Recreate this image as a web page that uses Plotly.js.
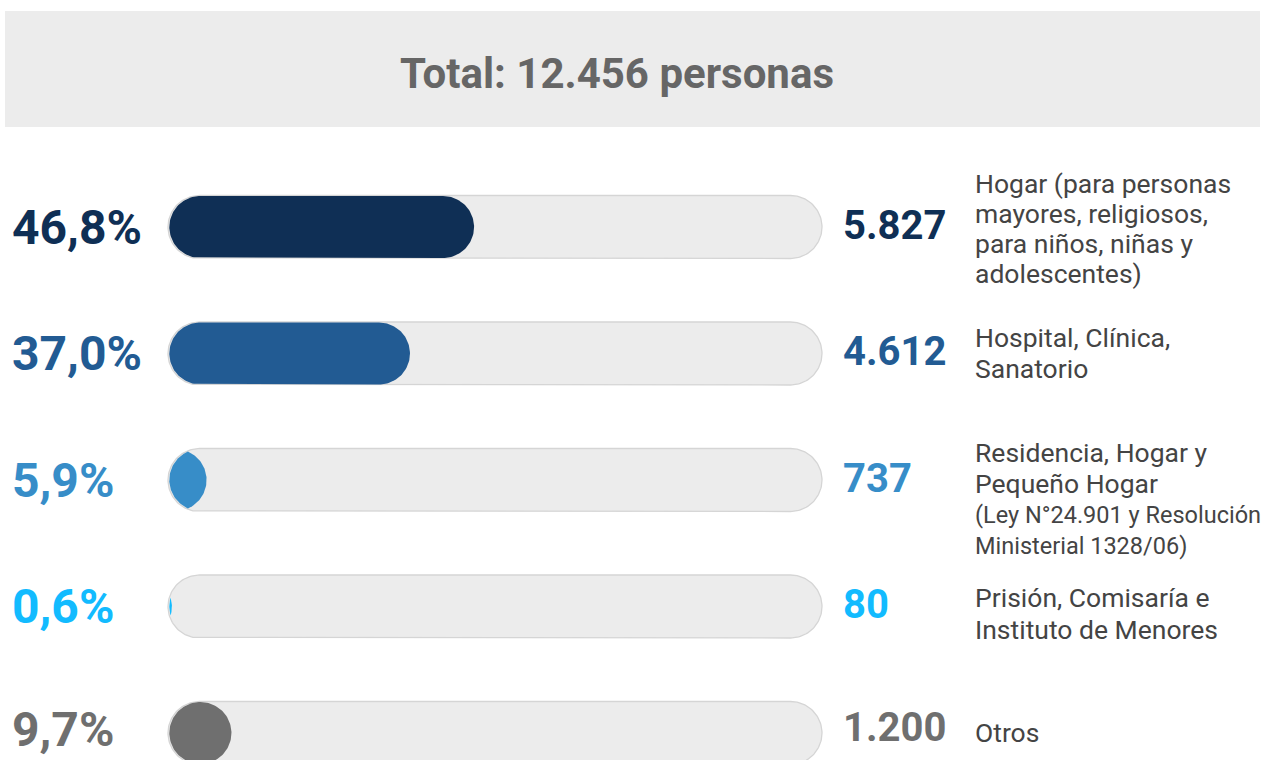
<!DOCTYPE html>
<html>
<head>
<meta charset="utf-8">
<script src="https://cdn.plot.ly/plotly-3.0.1.min.js"></script>
<style>
  html, body { margin: 0; padding: 0; background: #ffffff; }
  #chart { width: 1268px; height: 760px; }
</style>
</head>
<body>
<div id="chart"></div>
<script>
// ---------- DATA ----------
const categories = [
  ['Hogar (para personas', 'mayores, religiosos,', 'para niños, niñas y', 'adolescentes)'],
  ['Hospital, Clínica,', 'Sanatorio'],
  ['Residencia, Hogar y', 'Pequeño Hogar', '(Ley N°24.901 y Resolución', 'Ministerial 1328/06)'],
  ['Prisión, Comisaría e', 'Instituto de Menores'],
  ['Otros']
];
const percentages = [46.8, 37.0, 5.9, 0.6, 9.7];
const counts = [5827, 4612, 737, 80, 1200];
const titlePrefix = 'Total: ';
const titleSuffix = ' personas';

// ---------- STYLE ----------
const barColors = ['#0f2f55', '#225b93', '#378dc8', '#12bbff', '#6f6f6f'];
const W = 1268, H = 760;
const X0 = 168, TRACK_W = 654;          // track pixel start / width (0..100 %)
const PX_X = TRACK_W / 100;             // px per percent
const ROW0 = 227, ROW_STEP = 126.5;     // px of first row centre, px between rows
const labelShift = [1, -1, 19, 7, -1];  // px, label block centre vs bar centre
const labelLineGap = [30, 31, 31, 32, 30];
const textLift = [0, 0, 0, 0, 4];       // px, keeps the last row's texts inside the page
const smallLines = {2: [2, 3]};

const xRange = [-X0 / PX_X, (W - X0) / PX_X];
const yRange = [(H - ROW0) / ROW_STEP, -ROW0 / ROW_STEP];

function fmtPct(v) { return v.toFixed(1).replace('.', ',') + '%'; }
function fmtInt(v) { return String(v).replace(/\B(?=(\d{3})+(?!\d))/g, '.'); }

// pill polygon (data coords) from x0 to x1 (percent), centred on row yc
function pill(x0, x1, yc, rPx) {
  const rx = rPx / PX_X, ry = rPx / ROW_STEP;
  const cL = x0 + rx, cR = x1 - rx;
  let tMax = Math.PI / 2;
  if (cR < cL) {
    const c0 = (cL - cR) / (2 * rx);
    if (c0 >= 1) return null;
    tMax = Math.acos(c0);
  }
  const N = 60, xs = [], ys = [];
  for (let k = 0; k <= N; k++) {
    const t = -tMax + 2 * tMax * k / N;
    xs.push(cR + rx * Math.cos(t)); ys.push(yc + ry * Math.sin(t));
  }
  for (let k = 0; k <= N; k++) {
    const t = tMax - 2 * tMax * k / N;
    xs.push(cL - rx * Math.cos(t)); ys.push(yc + ry * Math.sin(t));
  }
  xs.push(xs[0]); ys.push(ys[0]);
  return {xs, ys};
}

const traces = [];
const annotations = [];
const total = counts.reduce((a, b) => a + b, 0);

percentages.forEach((p, i) => {
  const tr = pill(0, 100, i, 31.5);
  traces.push({
    type: 'scatter', mode: 'lines', x: tr.xs, y: tr.ys,
    fill: 'toself', fillcolor: '#ececec',
    line: {color: '#d5d5d5', width: 1.3},
    hoverinfo: 'skip', showlegend: false
  });
  const fl = pill(0.2, p, i, 31);
  if (fl) {
    traces.push({
      type: 'scatter', mode: 'lines', x: fl.xs, y: fl.ys,
      fill: 'toself', fillcolor: barColors[i],
      line: {color: barColors[i], width: 0},
      hoverinfo: 'skip', showlegend: false
    });
  }
  // percentage label (left)
  annotations.push({
    xref: 'paper', yref: 'y', x: 10 / W, y: i, xanchor: 'left', yanchor: 'middle',
    yshift: textLift[i],
    text: fmtPct(p), showarrow: false,
    font: {family: 'Roboto, sans-serif', size: 48, color: barColors[i], weight: 700}
  });
  // count label
  annotations.push({
    xref: 'paper', yref: 'y', x: 841 / W, y: i, xanchor: 'left', yanchor: 'middle',
    yshift: 2 + textLift[i],
    text: fmtInt(counts[i]), showarrow: false,
    font: {family: 'Roboto, sans-serif', size: 40, color: barColors[i], weight: 700}
  });
  // category label lines
  const lines = categories[i];
  const n = lines.length;
  lines.forEach((ln, k) => {
    const off = labelShift[i] + (k - (n - 1) / 2) * labelLineGap[i];
    const small = smallLines[i] && smallLines[i].includes(k);
    annotations.push({
      xref: 'paper', yref: 'y', x: 973 / W, y: i, xanchor: 'left', yanchor: 'middle',
      yshift: -off,
      text: ln, showarrow: false,
      font: {family: 'Roboto, sans-serif', size: small ? 23.5 : 26.5, color: '#444444'}
    });
  });
});

const layout = {
  width: W, height: H,
  margin: {l: 0, r: 0, t: 0, b: 0, pad: 0},
  paper_bgcolor: '#ffffff', plot_bgcolor: 'rgba(0,0,0,0)',
  showlegend: false, hovermode: false,
  title: {
    text: titlePrefix + fmtInt(total) + titleSuffix,
    x: 617 / W, xanchor: 'center', xref: 'paper',
    y: 1 - 73 / H, yanchor: 'middle', yref: 'paper',
    font: {family: 'Roboto, sans-serif', size: 42, color: '#666666', weight: 700}
  },
  xaxis: {range: xRange, visible: false, fixedrange: true},
  yaxis: {range: yRange, visible: false, fixedrange: true},
  shapes: [{
    type: 'rect', xref: 'paper', yref: 'paper', layer: 'below',
    x0: 5 / W, x1: 1260 / W, y0: 1 - 127 / H, y1: 1 - 11 / H,
    fillcolor: '#ececec', line: {width: 0}
  }],
  annotations: annotations
};

Plotly.newPlot('chart', traces, layout, {displayModeBar: false, staticPlot: true});
</script>
</body>
</html>
